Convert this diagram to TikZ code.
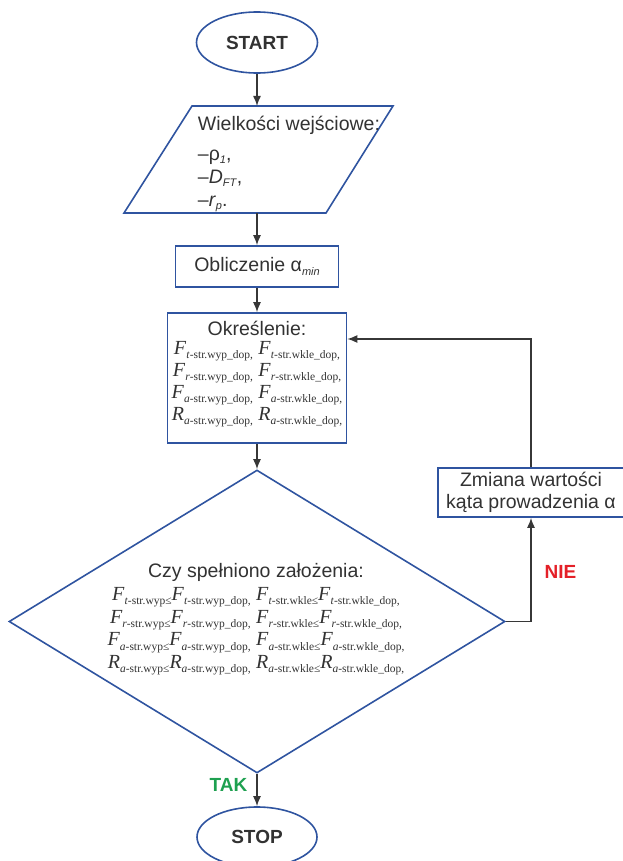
\documentclass[tikz,border=0pt]{standalone}
\usepackage{fontspec}
\setmainfont{Liberation Sans}
\newfontfamily\tms{Liberation Serif}
\usetikzlibrary{shapes.geometric,arrows.meta}

\definecolor{ramka}{RGB}{47,84,160}
\definecolor{strz}{RGB}{55,55,55}
\definecolor{tekst}{RGB}{50,50,50}
\definecolor{zielony}{RGB}{30,160,80}
\definecolor{czerwony}{RGB}{228,32,40}

% indeksy dolne
\newcommand{\dolny}[1]{\raisebox{-0.45ex}{\fontsize{11.5}{12}\selectfont #1}}
\newcommand{\wsk}[2]{{\tms\fontsize{20}{22}\selectfont\textit{#1}\dolny{#2}}}
\newcommand{\maly}[1]{\raisebox{-0.35ex}{\fontsize{11}{12}\selectfont\textit{#1}}}

\begin{document}
\begin{tikzpicture}[x=1pt,y=-1pt,
    ramka/.style={draw=ramka, line width=1.6pt, inner sep=0pt, text=tekst},
    blok/.style={ramka, rectangle},
    owal/.style={ramka, ellipse, font=\fontsize{19}{22}\selectfont\bfseries},
    strzalka/.style={draw=strz, line width=1.4pt, -{Latex[length=10pt,width=8pt]}},
    opis/.style={text=tekst, font=\fontsize{19.5}{22.5}\selectfont, inner sep=0pt},
    decyzja/.style={font=\fontsize{19}{22}\selectfont\bfseries, inner sep=0pt}]
        \useasboundingbox (0,0) rectangle (623,861);

        % Bloki
        \node[owal, minimum width=121pt, minimum height=61pt] (start) at (257,42.5) {START};
        \draw[ramka, line join=miter] (124,213) -- (192,106) -- (393,106) -- (326,213) -- cycle;
        \coordinate (we-g) at (257,106);
        \coordinate (we-d) at (257,213);
        \node[blok, minimum width=163pt, minimum height=41pt] (obl) at (257,266.5) {};
        \node[blok, minimum width=179pt, minimum height=130pt] (okr) at (257,378) {};
        \node[ramka, diamond, minimum width=496pt, minimum height=303pt] (czy) at (257,621.5) {};
        \node[blok, minimum width=186pt, minimum height=49pt] (zm) at (531,492.5) {};
        \node[owal, minimum width=120pt, minimum height=60pt] (stop) at (257,837) {STOP};

        % Teksty w blokach
        \node[opis, align=left, font=\fontsize{19.5}{23}\selectfont] (wetxt) at (289,164)
            {Wielkości wejściowe:\\[7pt] –ρ\maly{1},\\ –\textit{D}\maly{FT},\\ –\textit{r}\maly{p}.};
        \node[opis] (obltxt) at (257,266.5) {Obliczenie α\maly{min}};
        \node[opis, align=center, font=\fontsize{19.5}{22}\selectfont] (okrtxt) at (257,374)
            {Określenie:\\[-3pt]
             \wsk{F}{\textit{t}-str.wyp\_dop,} \wsk{F}{\textit{t}-str.wkle\_dop,}\\
             \wsk{F}{\textit{r}-str.wyp\_dop,} \wsk{F}{\textit{r}-str.wkle\_dop,}\\
             \wsk{F}{\textit{a}-str.wyp\_dop,} \wsk{F}{\textit{a}-str.wkle\_dop,}\\
             \wsk{R}{\textit{a}-str.wyp\_dop,} \wsk{R}{\textit{a}-str.wkle\_dop,}};
        \node[opis, align=center, font=\fontsize{19.5}{22.7}\selectfont] (czytxt) at (256,619.5)
            {Czy spełniono założenia:\\
             \wsk{F}{\textit{t}-str.wyp≤}\wsk{F}{\textit{t}-str.wyp\_dop,} \wsk{F}{\textit{t}-str.wkle≤}\wsk{F}{\textit{t}-str.wkle\_dop,}\\
             \wsk{F}{\textit{r}-str.wyp≤}\wsk{F}{\textit{r}-str.wyp\_dop,} \wsk{F}{\textit{r}-str.wkle≤}\wsk{F}{\textit{r}-str.wkle\_dop,}\\
             \wsk{F}{\textit{a}-str.wyp≤}\wsk{F}{\textit{a}-str.wyp\_dop,} \wsk{F}{\textit{a}-str.wkle≤}\wsk{F}{\textit{a}-str.wkle\_dop,}\\
             \wsk{R}{\textit{a}-str.wyp≤}\wsk{R}{\textit{a}-str.wyp\_dop,} \wsk{R}{\textit{a}-str.wkle≤}\wsk{R}{\textit{a}-str.wkle\_dop,}};
        \node[opis, align=center] (zmtxt) at (531,492.5) {Zmiana wartości\\ kąta prowadzenia α};

        % Strzałki
        \draw[strzalka] (start) -- (we-g);
        \draw[strzalka] (we-d) -- (obl);
        \draw[strzalka] (obl) -- (okr);
        \draw[strzalka] (okr) -- (czy);
        \draw[strzalka] (czy) -- (stop) node[decyzja, pos=0.35, left=9pt, text=zielony] {TAK};
        \draw[strzalka] (czy.east) -| (zm.south) node[decyzja, pos=0.74, right=13pt, text=czerwony] {NIE};
        \draw[strzalka] (zm.north) |- ([yshift=39pt]okr.east);
\end{tikzpicture}
\end{document}
